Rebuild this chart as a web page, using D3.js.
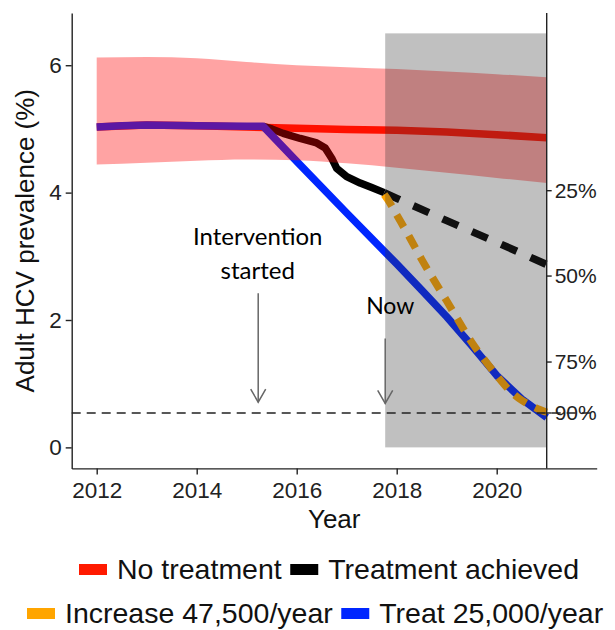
<!DOCTYPE html>
<html><head><meta charset="utf-8">
<script src="https://cdn.jsdelivr.net/npm/d3@7"></script>
<style>body{margin:0;background:#fff} svg{display:block}</style>
</head><body><svg id="c" width="615" height="630"></svg>
<script>
// ---- data ----
const ribbonYears = [2012, 2013, 2014, 2015, 2016, 2017, 2018, 2019, 2020, 2021];
const ribbonLow   = [4.44, 4.47, 4.50, 4.52, 4.51, 4.46, 4.39, 4.31, 4.23, 4.15];
const ribbonHigh  = [6.12, 6.13, 6.11, 6.05, 6.00, 5.97, 5.94, 5.90, 5.86, 5.81];

const noTreatment = [[2012,5.03],[2013,5.06],[2014,5.05],[2015,5.03],[2016,5.01],[2017,4.99],[2018,4.98],[2019,4.95],[2020,4.91],[2021,4.86]];
const achievedSolid = [[2015.33,5.04],[2015.5,5.0],[2015.73,4.93],[2016.07,4.85],[2016.4,4.78],[2016.57,4.70],[2016.7,4.54],[2016.8,4.38],[2017.0,4.25],[2017.27,4.15],[2017.5,4.08],[2017.75,4.0]];
const achievedProjected = [[2017.75,4.0],[2018,3.91],[2019,3.56],[2020,3.22],[2021,2.87]];
const treat25000 = [[2012,5.03],[2012.5,5.05],[2013,5.06],[2014,5.05],[2015,5.04],[2015.33,5.04],[2016,4.49],[2017,3.68],[2018,2.88],[2018.5,2.47],[2019,2.05],[2019.5,1.6],[2020,1.13],[2020.5,0.76],[2021,0.47]];
const increase47500 = [[2017.75,3.97],[2017.83,3.88],[2018,3.65],[2018.25,3.31],[2018.5,2.95],[2018.75,2.62],[2019,2.3],[2019.25,1.97],[2019.5,1.65],[2019.75,1.38],[2020,1.13],[2020.25,0.9],[2020.5,0.74],[2020.75,0.63],[2021,0.55]];

const xTicks = [2012, 2014, 2016, 2018, 2020];
const yTicks = [0, 2, 4, 6];
const rightTickLabels = ["25%", "50%", "75%", "90%"];
const rightTickValues = [4.03, 2.69, 1.34, 0.54];
const targetLevel = 0.54;
const nowYear = 2017.77;
const shadeTop = 6.5;
const endYear = 2021;

const legendRow1 = ["No treatment", "Treatment achieved"];
const legendRow1Colors = ["#ff1a00", "#000000"];
const legendRow2 = ["Increase 47,500/year", "Treat 25,000/year"];
const legendRow2Colors = ["#ffa500", "#0026ff"];

// ---- scales ----
const svg = d3.select("#c");
const x = d3.scaleLinear().domain([2011.5, 2022]).range([71.7, 596.7]);
const y = d3.scaleLinear().domain([-0.33, 6.82]).range([468.4, 13]);
const FONT = "'Liberation Sans', Arial, sans-serif";
const ANNOT = "Lato, 'Open Sans', sans-serif";

const line = d3.line().x(d => x(d[0])).y(d => y(d[1]));

// ---- lines (under ribbon and shade) ----
const g = svg.append("g");
const lw = 7.5;
g.append("path").attr("d", line(noTreatment)).attr("fill","none").attr("stroke","#ff1a00").attr("stroke-width",lw).attr("stroke-linejoin","round");
g.append("path").attr("d", line(achievedSolid)).attr("fill","none").attr("stroke","#000").attr("stroke-width",lw).attr("stroke-linejoin","round");
g.append("path").attr("d", line(treat25000)).attr("fill","none").attr("stroke","#0026ff").attr("stroke-width",lw).attr("stroke-linejoin","round");
g.append("path").attr("d", line(achievedProjected)).attr("fill","none").attr("stroke","#000").attr("stroke-width",lw).attr("stroke-dasharray","17,15");
g.append("path").attr("d", d3.line().x(d => x(d[0])).y(d => y(d[1])).curve(d3.curveMonotoneX)(increase47500)).attr("fill","none").attr("stroke","#ffa500").attr("stroke-width",lw).attr("stroke-dasharray","14,10");

// ---- ribbon ----
const area = d3.area().x((d,i) => x(ribbonYears[i])).y0((d,i) => y(ribbonLow[i])).y1((d,i) => y(ribbonHigh[i])).curve(d3.curveMonotoneX);
svg.append("path").attr("d", area(ribbonYears)).attr("fill","#ff0000").attr("fill-opacity",0.36);

// ---- shaded projection window ----
svg.append("rect").attr("x", x(nowYear)).attr("y", y(shadeTop)).attr("width", x(endYear)-x(nowYear)).attr("height", y(0)-y(shadeTop)).attr("fill","#333").attr("fill-opacity",0.31);

// ---- target line ----
svg.append("line").attr("x1", x(2011.5)).attr("x2", x(2022)).attr("y1", y(targetLevel)).attr("y2", y(targetLevel)).attr("stroke","#222").attr("stroke-width",1.4).attr("stroke-dasharray","9,6");

// ---- axes ----
const ax = svg.append("g").attr("transform", `translate(0,${y(-0.33)})`)
  .call(d3.axisBottom(x).tickValues(xTicks).tickFormat(d3.format("d")).tickSize(6).tickSizeOuter(0).tickPadding(7.6));
const ay = svg.append("g").attr("transform", `translate(${x(2011.5)},0)`)
  .call(d3.axisLeft(y).tickValues(yTicks).tickFormat(d3.format("d")).tickSize(6).tickSizeOuter(0).tickPadding(4));
[ax, ay].forEach(a => {
  a.selectAll("path,line").attr("stroke","#222").attr("stroke-width",1.4);
  a.selectAll("text").attr("font-family",FONT).attr("font-size","22.5px").attr("fill","#222");
});

// right axis at end year
svg.append("line").attr("x1", x(endYear)).attr("x2", x(endYear)).attr("y1", y(-0.33)).attr("y2", y(6.82)).attr("stroke","#222").attr("stroke-width",1.4);
const rt = svg.append("g");
rightTickValues.forEach((v,i) => {
  rt.append("line").attr("x1", x(endYear)).attr("x2", x(endYear)+5).attr("y1", y(v)).attr("y2", y(v)).attr("stroke","#222").attr("stroke-width",1.4);
  rt.append("text").attr("x", x(endYear)+8).attr("y", y(v)).attr("dy","0.35em").attr("font-family",FONT).attr("font-size","21px").attr("fill","#222").text(rightTickLabels[i]);
});

// axis titles
svg.append("text").attr("x", (x(2011.5)+x(2022))/2).attr("y", 528).attr("text-anchor","middle").attr("font-family",FONT).attr("font-size","26px").attr("fill","#111").text("Year");
svg.append("text").attr("transform", `translate(34,${(y(-0.33)+y(6.82))/2}) rotate(-90)`).attr("text-anchor","middle").attr("font-family",FONT).attr("font-size","26px").attr("fill","#111").text("Adult HCV prevalence (%)");

// ---- annotations ----
function arrow(yr, v0, v1) {
  const xx = x(yr), y0 = y(v0), y1 = y(v1);
  svg.append("line").attr("x1",xx).attr("x2",xx).attr("y1",y0).attr("y2",y1).attr("stroke","#666").attr("stroke-width",1.5);
  svg.append("polyline").attr("points", `${xx-7.5},${y1-13} ${xx},${y1} ${xx+7.5},${y1-13}`).attr("fill","none").attr("stroke","#666").attr("stroke-width",1.5);
}
arrow(2015.23, 2.42, 0.71);
arrow(nowYear, 1.71, 0.69);
svg.append("text").attr("x", x(2015.22)).attr("y", y(3.17)).attr("text-anchor","middle").attr("font-family",ANNOT).attr("font-size","24px").attr("fill","#000").text("Intervention");
svg.append("text").attr("x", x(2015.22)).attr("y", y(2.65)).attr("text-anchor","middle").attr("font-family",ANNOT).attr("font-size","24px").attr("fill","#000").text("started");
svg.append("text").attr("x", x(2017.87)).attr("y", y(2.09)).attr("text-anchor","middle").attr("font-family",ANNOT).attr("font-size","23px").attr("fill","#000").text("Now");

// ---- legend ----
function legendRow(labels, colors, startX, baseline) {
  let cx = startX;
  labels.forEach((lab, i) => {
    svg.append("rect").attr("x", cx).attr("y", baseline-15).attr("width", 28).attr("height", 11).attr("fill", colors[i]);
    cx += 28 + 10;
    const t = svg.append("text").attr("x", cx).attr("y", baseline).attr("font-family",FONT).attr("font-size","28.5px").attr("fill","#111").text(lab);
    cx += t.node().getComputedTextLength() + 8.5;
  });
}
legendRow(legendRow1, legendRow1Colors, 79, 579);
legendRow(legendRow2, legendRow2Colors, 27, 623);
</script>
</body></html>
